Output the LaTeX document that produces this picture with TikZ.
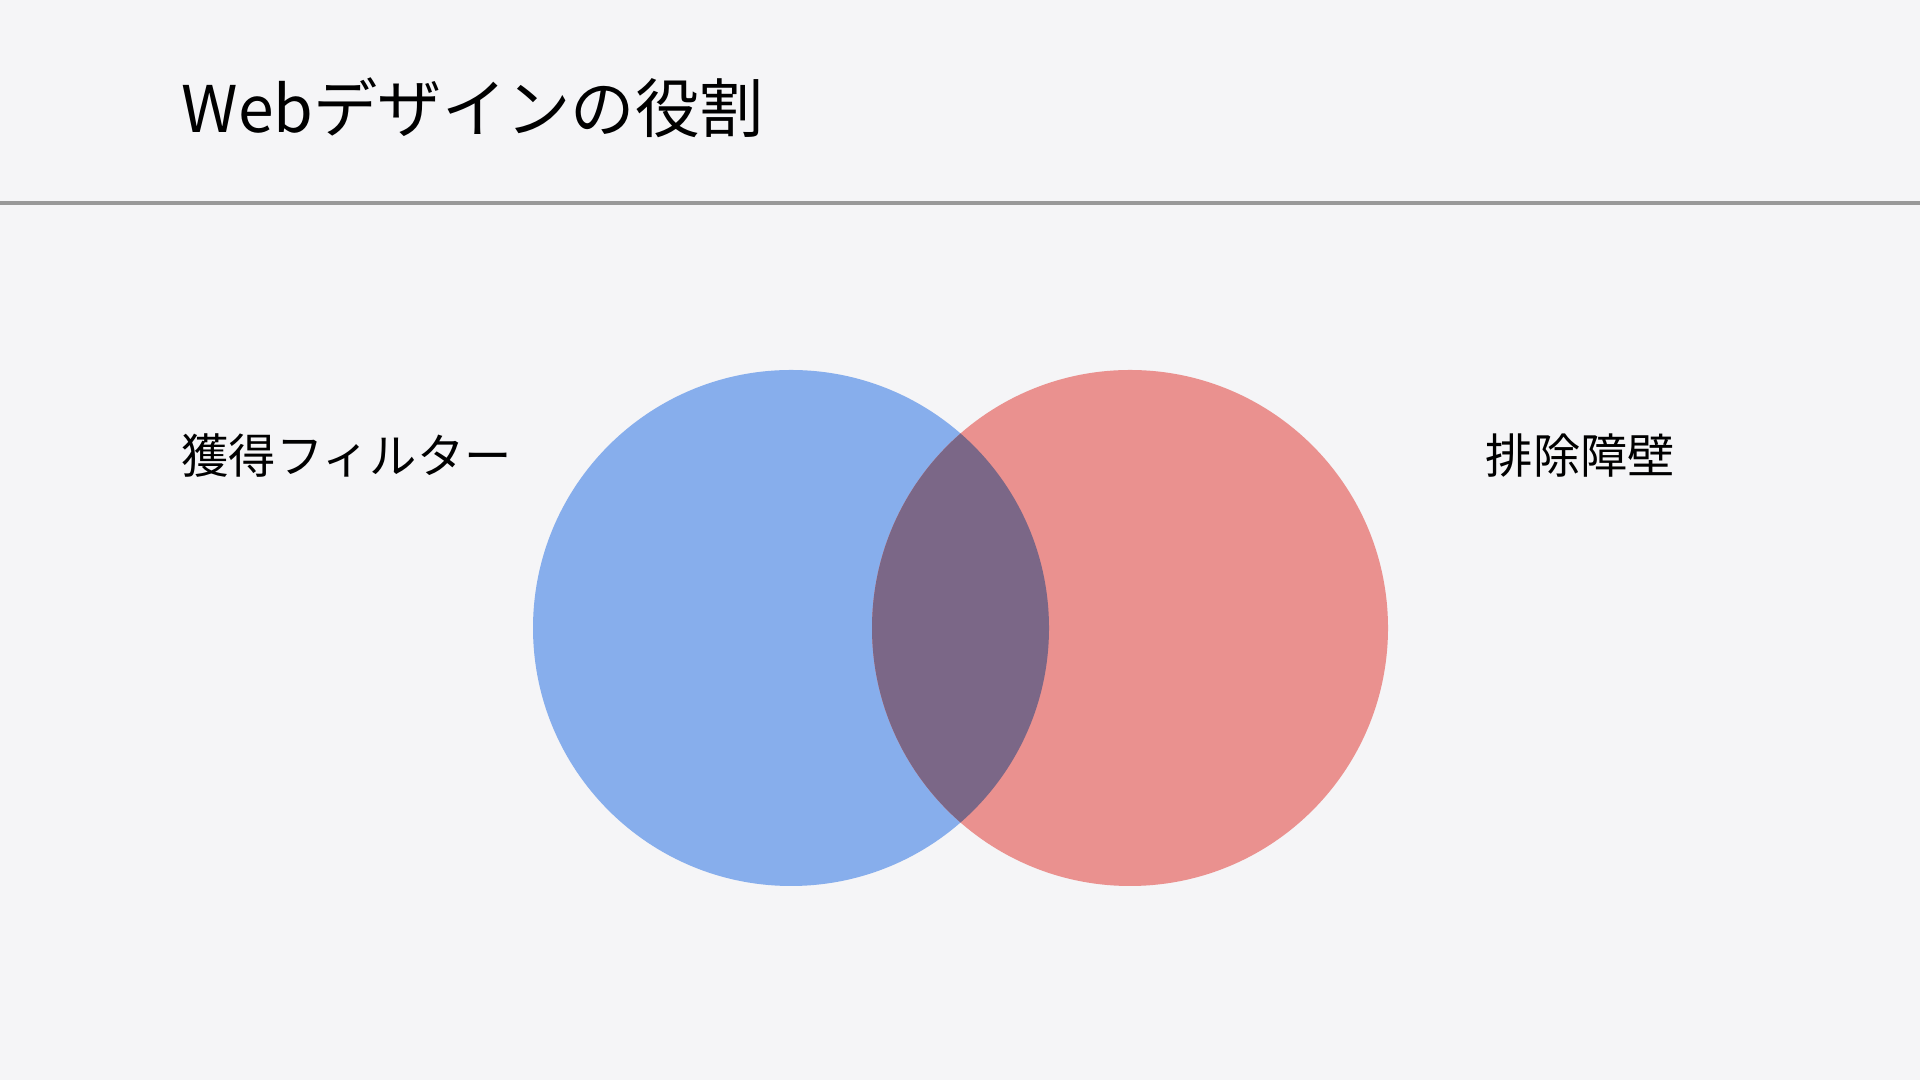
\documentclass[tikz,border=0pt]{standalone}
\usepackage{fontspec}
\setmainfont{Noto Sans CJK JP}
\usetikzlibrary{positioning}
\definecolor{bgGray}{RGB}{245,245,247}
\definecolor{ruleGray}{RGB}{153,153,153}
\definecolor{acqBlue}{RGB}{135,174,236}
\definecolor{barRed}{RGB}{234,145,143}
\definecolor{mixPurple}{RGB}{123,103,135}
\tikzset{circBlue/.style={circle, fill=acqBlue, inner sep=0pt, minimum size=5.16cm}}
\tikzset{circRed/.style={circle, fill=barRed, inner sep=0pt, minimum size=5.16cm}}
\tikzset{labelStyle/.style={anchor=west, inner sep=0pt, font=\fontsize{13.45}{16}\selectfont}}
\tikzset{titleStyle/.style={anchor=west, inner sep=0pt, font=\fontsize{18.3}{22}\selectfont}}

\begin{document}
\begin{tikzpicture}
  % background
  \fill [bgGray] (0, 0) rectangle (19.2, 10.8);
  \useasboundingbox (0, 0) rectangle (19.2, 10.8);

  % title
  \node at (1.81, 9.72) [titleStyle] (title){Webデザインの役割};
  \coordinate (ruleL) at (0, 8.77);
  \coordinate (ruleR) at (19.2, 8.77);
  \draw [ruleGray, line width=1.1pt] (ruleL) -- (ruleR);

  % circles
  \node at (7.91, 4.52) [circBlue] (acquire){};
  \node at (11.30, 4.52) [circRed] (barrier){};
  \begin{scope}
    \clip (acquire.center) circle (2.58);
    \fill [mixPurple] (barrier.center) circle (2.58);
  \end{scope}

  % labels
  \node at (1.81, 6.24) [labelStyle] (filter){獲得フィルター};
  \node at (14.85, 6.24) [labelStyle] (wall){排除障壁};
\end{tikzpicture}
\end{document}
